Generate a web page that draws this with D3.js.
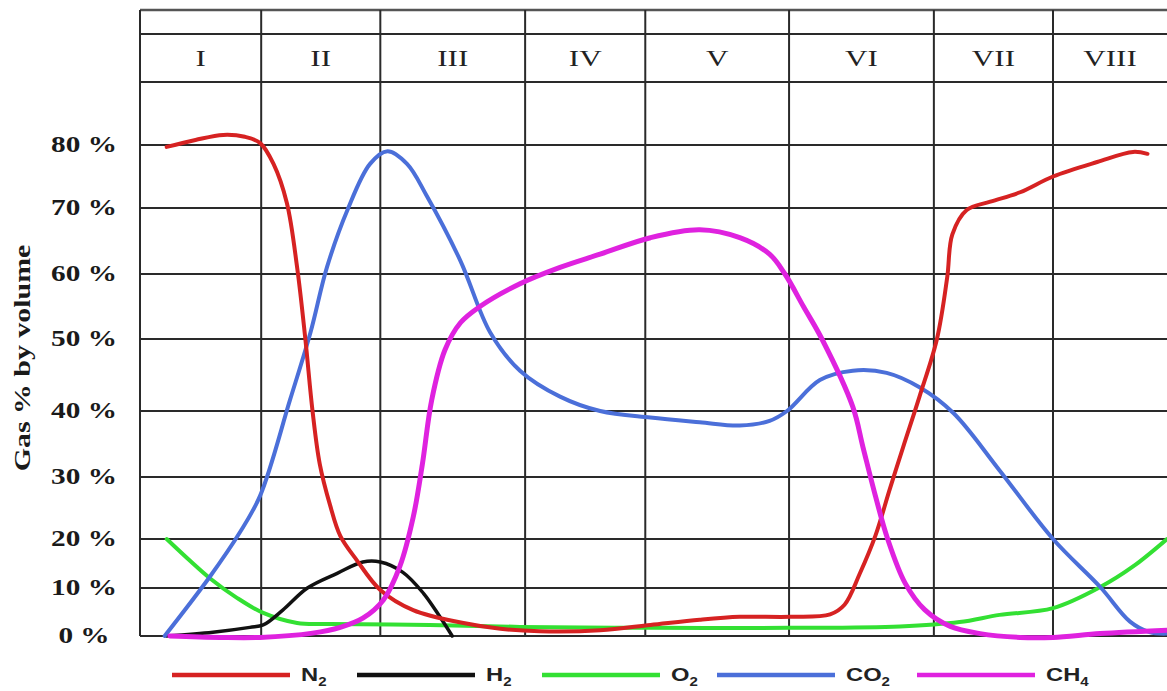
<!DOCTYPE html>
<html>
<head>
<meta charset="utf-8">
<script src="https://cdn.jsdelivr.net/npm/d3@7"></script>
<style>
  html, body { margin: 0; padding: 0; background: #fff; }
  svg { display: block; }
</style>
</head>
<body>
<svg id="chart" width="1167" height="691"></svg>
<script>
// ---------- DATA ----------
// x: landfill time on a 0-100 scale (left edge to right edge of the chart)
// y: gas % by volume
const phaseLabels = ["I", "II", "III", "IV", "V", "VI", "VII", "VIII"];
const phaseBounds = [0, 11.8, 23.4, 37.5, 49.2, 63.2, 77.3, 88.9, 100];
const yTicks = [0, 10, 20, 30, 40, 50, 60, 70, 80];
const yTickLabels = ["0 %", "10 %", "20 %", "30 %", "40 %", "50 %", "60 %", "70 %", "80 %"];

const n2 = [[2.6,79.7],[5.4,80.8],[8.1,81.6],[10.2,81.3],[11.7,80.3],[13.0,77],[14.3,70.8],[15.3,61],[16.1,50],[16.8,40],[17.5,32],[18.5,25.5],[19.5,20.5],[21.1,15.7],[23.4,9.6],[26.6,5.4],[31.5,2.7],[35.1,1.5],[38.9,1.0],[44.8,1.2],[49.7,2.3],[54.5,3.4],[58.4,4.0],[63.3,4.0],[67.2,4.5],[68.6,6.5],[70.1,13],[71.6,20.5],[73.0,28],[74.3,34.5],[75.9,42],[77.6,50],[78.6,59.5],[79.1,66],[80.5,69.7],[82.8,71],[85.7,72.5],[88.9,75],[93.2,77.3],[96.7,78.9],[98.1,78.6]];
const h2 = [[2.6,0],[7.1,0.8],[10.7,1.8],[12.0,2.3],[13.9,5.4],[16.3,10],[19.2,13],[21.7,15.3],[23.4,15.3],[25.6,13.2],[27.6,8.9],[29.2,4],[30.4,0]];
const o2 = [[2.6,20],[4.9,15.5],[6.8,12],[9.4,8],[12.0,4.8],[15.3,2.7],[18.5,2.5],[28.2,2.3],[37.0,1.9],[49.7,1.7],[63.2,1.7],[74.0,2.0],[79.8,2.9],[83.7,4.4],[88.9,5.8],[93.5,10.2],[96.7,14.4],[100,20]];
const co2 = [[2.4,0],[6.8,12.3],[9.7,21],[11.7,27],[14.6,41.5],[16.6,51],[18.2,61],[20.2,69.7],[22.4,77],[24.1,79],[26.0,77],[27.9,72],[31.2,62],[34.1,51],[37.0,45.6],[40.9,42],[44.8,40],[49.7,39],[54.5,38.3],[58.4,37.8],[61.3,38.5],[63.0,40],[66.2,44.3],[69.4,45.6],[72.7,45.3],[75.9,43.3],[79.2,39.7],[83.7,31],[88.9,20],[93.5,10.2],[96.4,3],[98.3,0.8],[100,0.5]];
const ch4 = [[2.9,0],[7.8,-0.3],[11.7,-0.3],[16.8,0.6],[19.5,1.8],[21.7,3.7],[23.7,7.5],[25.3,14.4],[26.6,23.5],[27.5,32],[28.4,41.5],[29.7,48.5],[31.2,52.5],[33.1,55],[37.0,58.5],[40.9,61],[44.8,63],[49.7,65.5],[54.5,66.7],[58.4,65.5],[61.3,63],[62.8,60],[64.6,55],[66.4,50],[69.4,40.6],[70.4,34.5],[71.6,27],[72.8,20],[74.5,11],[76.4,5.5],[78.9,2],[81.8,0.5],[85.7,-0.3],[88.9,-0.3],[93.5,0.5],[100,1.2]];

const series = [
  { name: "O2",  base: "O",  sub: "2", data: o2,  color: "#33e033", width: 4 },
  { name: "H2",  base: "H",  sub: "2", data: h2,  color: "#111111", width: 3.5 },
  { name: "CO2", base: "CO", sub: "2", data: co2, color: "#4b6fd9", width: 4 },
  { name: "N2",  base: "N",  sub: "2", data: n2,  color: "#d62222", width: 4 },
  { name: "CH4", base: "CH", sub: "4", data: ch4, color: "#df22df", width: 5 }
];
const legendOrder = ["N2", "H2", "O2", "CO2", "CH4"];

// ---------- LAYOUT ----------
const svg = d3.select("#chart");
const left = 140, right = 1167, topY = 10, headTop = 34, headBottom = 82;
const stretch = 1.3;

const x = d3.scaleLinear().domain([0, 100]).range([left, right]);
// the original drawing's percentage grid is unevenly spaced
const y = d3.scaleLinear().domain(yTicks).range([636, 588, 539, 477, 411, 339, 274, 208, 145]);

const gridColor = "#2a2a2a";
const grid = svg.append("g");

grid.selectAll("line.h").data(yTicks).join("line")
  .attr("x1", left).attr("x2", right)
  .attr("y1", d => y(d)).attr("y2", d => y(d))
  .attr("stroke", gridColor).attr("stroke-width", 2);

grid.selectAll("line.hd").data([topY, headTop, headBottom]).join("line")
  .attr("x1", left).attr("x2", right)
  .attr("y1", d => d).attr("y2", d => d)
  .attr("stroke", d => d === topY ? "#555" : gridColor)
  .attr("stroke-width", d => d === topY ? 2.5 : 2);

grid.selectAll("line.v").data(phaseBounds.slice(0, 8)).join("line")
  .attr("x1", d => x(d)).attr("x2", d => x(d))
  .attr("y1", topY).attr("y2", y(0))
  .attr("stroke", gridColor).attr("stroke-width", 2);

svg.append("g").selectAll("text").data(phaseLabels).join("text")
  .attr("transform", (d, i) => `translate(${(x(phaseBounds[i]) + x(phaseBounds[i + 1])) / 2},${(headTop + headBottom) / 2}) scale(${stretch},1)`)
  .attr("text-anchor", "middle")
  .attr("dominant-baseline", "central")
  .attr("font-family", "'Liberation Serif', 'Times New Roman', serif")
  .attr("font-size", 24)
  .attr("fill", "#222")
  .text(d => d);

svg.append("g").selectAll("text").data(yTicks).join("text")
  .attr("transform", d => `translate(84,${y(d) - 1}) scale(1.22,1)`)
  .attr("text-anchor", "middle")
  .attr("dominant-baseline", "central")
  .attr("font-family", "'Liberation Serif', 'Times New Roman', serif")
  .attr("font-weight", "bold")
  .attr("font-size", 24)
  .attr("fill", "#1a1a1a")
  .text((d, i) => yTickLabels[i]);

svg.append("text")
  .attr("transform", `translate(22,358) rotate(-90) scale(1.3,1)`)
  .attr("text-anchor", "middle")
  .attr("dominant-baseline", "central")
  .attr("font-family", "'Liberation Serif', 'Times New Roman', serif")
  .attr("font-weight", "bold")
  .attr("font-size", 23)
  .attr("fill", "#1a1a1a")
  .text("Gas % by volume");

const line = d3.line()
  .x(d => x(d[0]))
  .y(d => y(d[1]))
  .curve(d3.curveCatmullRom.alpha(0.5));

svg.append("g").selectAll("path").data(series).join("path")
  .attr("d", d => line(d.data))
  .attr("fill", "none")
  .attr("stroke", d => d.color)
  .attr("stroke-width", d => d.width)
  .attr("stroke-linecap", "round")
  .attr("stroke-linejoin", "round");

const legendY = 675;
const legendStarts = [172, 357, 542, 717, 917];
const legendLen = 118;
const lg = svg.append("g");
legendOrder.forEach((nm, i) => {
  const s = series.find(d => d.name === nm);
  const x0 = legendStarts[i];
  lg.append("line")
    .attr("x1", x0).attr("x2", x0 + legendLen)
    .attr("y1", legendY).attr("y2", legendY)
    .attr("stroke", s.color).attr("stroke-width", 4.5);
  const t = lg.append("text")
    .attr("transform", `translate(${x0 + legendLen + 11},${legendY + 6}) scale(1.25,1)`)
    .attr("font-family", "'Liberation Sans', Arial, sans-serif")
    .attr("font-weight", "bold")
    .attr("font-size", 19)
    .attr("fill", "#222");
  t.append("tspan").text(s.base);
  t.append("tspan").attr("font-size", 12).attr("dy", 5).text(s.sub);
});
</script>
</body>
</html>
